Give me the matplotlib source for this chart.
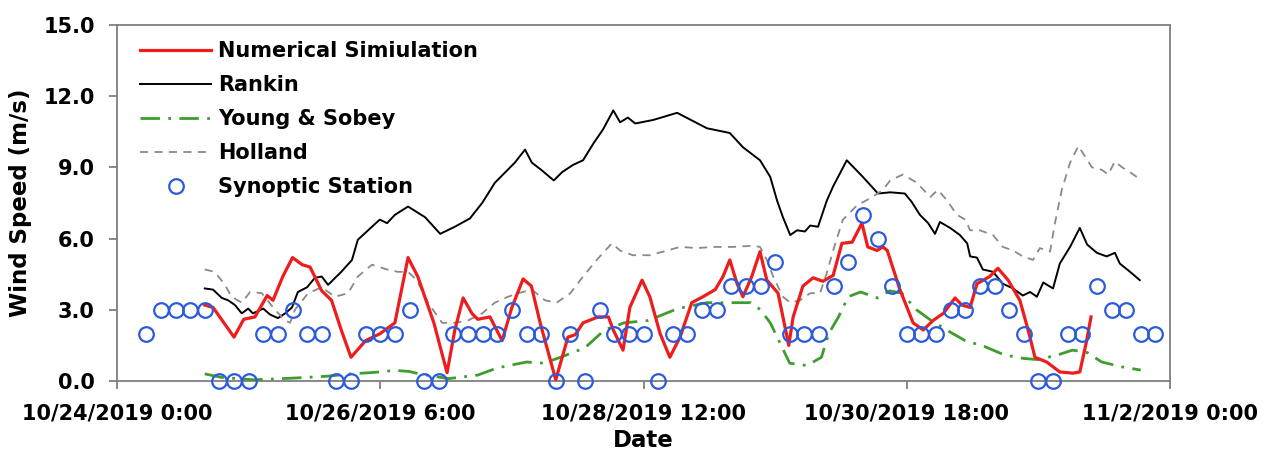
import matplotlib
matplotlib.use("Agg")
import matplotlib.pyplot as plt
import matplotlib.dates as mdates
from matplotlib.ticker import FuncFormatter, MultipleLocator
import pandas as pd

plt.rcParams['font.family'] = 'DejaVu Sans'
plt.rcParams['font.weight'] = 'bold'

start = pd.Timestamp("2019-10-24 00:00")
end = pd.Timestamp("2019-11-02 00:00")

# hours after 10/24/2019 0:00 and wind speed (m/s)
sim_hours = [18, 19.7, 24, 26, 28.3, 30.8, 32, 34, 36, 38, 39.6, 42, 44, 46, 48, 51, 54, 57,
             59.7, 61.7, 65, 67.7, 69.3, 71, 72.8, 74, 76.5, 79, 81, 83.3, 85, 86.8, 87.8, 90,
             92.5, 94, 95.6, 98.7, 100.8, 101.8, 103.8, 105.2, 107.7, 109.3, 111.4, 113.4,
             115.5, 117.9, 120.2, 122.7, 124.3, 125.7, 127.2, 128.4, 130.2, 131.9, 133.3,
             135.6, 136.6, 137.8, 138.7, 140.7, 142.8, 144.8, 146.9, 148.7, 150.8, 152.8, 154,
             155.9, 157.1, 158, 160.6, 163.3, 165.4, 167.4, 169.5, 171.9, 173.3, 175, 176.4,
             179, 180.7, 182.8, 185.2, 186.9, 188.3, 190.7, 192, 193.4, 196.1, 197.5, 198.8, 199.8]
sim_speed = [3.2, 3.1, 1.85, 2.6, 2.7, 3.6, 3.4, 4.4, 5.2, 4.9, 4.8, 3.8, 3.4, 2.15, 1.0, 1.7, 2.0, 2.45,
             5.2, 4.4, 2.45, 0.35, 2.15, 3.5, 2.85, 2.6, 2.7, 1.7, 3.1, 4.3, 4.0, 2.45, 1.7, 0.05,
             1.85, 1.95, 2.45, 2.7, 2.7, 2.15, 1.3, 3.1, 4.25, 3.55, 2.0, 1.0,
             1.85, 3.3, 3.55, 3.85, 4.4, 5.1, 4.1, 3.55, 4.4, 5.45, 4.25,
             3.7, 2.7, 1.5, 2.7, 4.0, 4.35, 4.2, 4.45, 5.8, 5.85, 6.65, 5.65,
             5.5, 5.65, 5.5, 3.85, 2.45, 2.15, 2.55, 2.85, 3.5, 3.2, 3.1, 4.1,
             4.4, 4.75, 4.25, 3.4, 2.15, 1.0, 0.8, 0.6, 0.38, 0.33, 0.38, 1.6, 2.7]

rankin_hours = [18, 19.7, 21.5, 22.8, 24.2, 25.6, 26.9, 27.9, 30, 31.4, 33, 34.5, 35.9, 37.1, 39,
                40.6, 42, 43.3, 46, 48.2, 49.4, 52.3, 53.9, 55.4, 57, 59.7, 63.2, 66.3, 69.3,
                72.4, 74.9, 77.5, 81.6, 83.7, 85.1, 87, 89.6, 91.3, 93.5, 95.6, 97.7, 99.7,
                101.8, 103.2, 104.8, 106.3, 110, 114.9, 121, 125.7, 128.4, 131.9, 134, 135.4,
                136.6, 138.1, 139.5, 141.1, 142.2, 143.8, 145.6, 146.9, 149.7, 153, 156.1,
                158.6, 161.6, 163, 164.7, 166.4, 167.8, 168.8, 170.9, 172.9, 174.4, 175, 176.4,
                177.6, 179.7, 181.7, 183.8, 185.8, 187.3, 188.7, 190, 190.8, 192, 193.4, 195.5,
                197.5, 199, 201, 203, 204.7, 205.7, 207.8, 209.8]
rankin_speed = [3.9, 3.85, 3.5, 3.4, 3.2, 2.85, 3.05, 2.85, 3.05, 2.8, 2.65, 2.85, 3.1, 3.75, 3.95,
                4.35, 4.4, 4.05, 4.6, 5.1, 5.95, 6.5, 6.8, 6.65, 7.0, 7.35, 6.9, 6.2, 6.5,
                6.85, 7.5, 8.35, 9.2, 9.75, 9.2, 8.9, 8.45, 8.8, 9.1, 9.3, 10.0, 10.6,
                11.4, 10.9, 11.1, 10.85, 11.0, 11.3, 10.65, 10.45, 9.85, 9.3, 8.6, 7.6,
                6.9, 6.15, 6.35, 6.3, 6.55, 6.5, 7.6, 8.2, 9.3, 8.6, 7.9,
                7.95, 7.9, 7.55, 7.0, 6.65, 6.2, 6.7, 6.45, 6.15, 5.8, 5.25, 5.2,
                4.7, 4.6, 4.1, 3.9, 3.6, 3.75, 3.55, 4.15, 4.05, 3.9, 4.95, 5.65,
                6.45, 5.75, 5.4, 5.25, 5.4, 4.95, 4.6, 4.25]

young_hours = [18, 21.5, 28, 36, 43, 48, 54, 57, 60, 62, 68, 74, 78, 84, 87.5, 91, 96, 100, 104,
               109, 115, 121, 125, 130, 132, 134, 136, 138, 141.5, 144.5, 146, 148, 150, 152.5,
               156, 158.5, 161, 164, 167, 171, 174, 178, 182, 186, 189, 193, 196, 199, 202, 206, 210]
young_speed = [0.3, 0.15, 0.05, 0.12, 0.2, 0.3, 0.38, 0.45, 0.4, 0.3, 0.1, 0.25, 0.55, 0.8, 0.75, 1.0, 1.4, 2.15, 2.45,
               2.55, 3.05, 3.3, 3.3, 3.3, 3.0, 2.45, 1.6, 0.75, 0.65, 1.0, 2.0, 2.7, 3.55, 3.75,
               3.5, 3.8, 3.7, 3.0, 2.55, 2.05, 1.7, 1.45, 1.1, 0.95, 0.9, 1.1, 1.3, 1.2, 0.8, 0.6, 0.46]

holland_hours = [18, 20, 22, 23.5, 25.6, 27.3, 29.7, 32.4, 34.5, 35.5, 36.5, 39.2, 42, 44.7, 47.4,
                 49.4, 52.3, 55.4, 57.6, 59.7, 61.5, 63.8, 66.7, 69.3, 72, 74.9, 77.5, 80.2, 82.3,
                 85.1, 87.8, 90.2, 93, 95.6, 98.4, 101.5, 103.2, 105.8, 109.3, 112, 115.5, 119,
                 122.3, 126.4, 130.5, 131.9, 133.3, 134.6, 136.6, 138.1, 140.1, 142.2, 144.2,
                 145.6, 146.9, 148.9, 151.8, 154.5, 157.1, 158.6, 161.2, 164.1, 166.8, 168.4,
                 170.3, 172.3, 174, 175, 177, 179.7, 181.7, 183.8, 185.8, 187.9, 189.3, 191.4,
                 192.4, 193.8, 195.5, 197.2, 198.6, 200, 202, 203.3, 204.7, 206.2, 207.8, 209.5]
holland_speed = [4.7, 4.6, 4.1, 3.55, 3.3, 3.75, 3.7, 3.0, 2.55, 2.45, 3.0, 3.7, 3.95, 3.55, 3.7,
                 4.4, 4.9, 4.7, 4.6, 4.6, 4.25, 3.3, 2.45, 2.45, 2.55, 2.85, 3.3, 3.55, 3.7,
                 3.85, 3.4, 3.3, 3.7, 4.4, 5.1, 5.8, 5.5, 5.3, 5.3, 5.45, 5.65, 5.6,
                 5.65, 5.65, 5.7, 5.65, 5.1, 4.4, 3.55, 3.3, 3.4, 3.7, 3.7,
                 4.55, 5.5, 6.8, 7.4, 7.7, 8.05, 8.45, 8.7, 8.35, 7.75, 8.05,
                 7.6, 7.0, 6.8, 6.35, 6.35, 6.15, 5.65, 5.5, 5.25, 5.1, 5.6, 5.45,
                 6.65, 8.05, 9.2, 9.9, 9.45, 9.0, 8.9, 8.7, 9.25, 9.0, 8.8, 8.55]

# 3-hourly station observations from 10/24 6:00
station_speed = [2, 3, 3, 3, 3, 0, 0, 0, 2, 2, 3, 2, 2, 0, 0, 2, 2, 2, 3, 0, 0, 2, 2, 2, 2, 3, 2, 2,
                 0, 2, 0, 3, 2, 2, 2, 0, 2, 2, 3, 3, 4, 4, 4, 5, 2, 2, 2, 4, 5, 7, 6, 4, 2, 2, 2,
                 3, 3, 4, 4, 3, 2, 0, 0, 2, 2, 4, 3, 3, 2, 2]


def to_time(hours):
    return start + pd.to_timedelta(hours, unit="h")


station_time = pd.date_range("2019-10-24 06:00", periods=len(station_speed), freq="3h")

fig = plt.figure(figsize=(12.68, 4.5), dpi=100)
ax = fig.add_axes([117 / 1268, 1 - 381 / 450, 1053 / 1268, 356 / 450])

ax.plot(to_time(sim_hours), sim_speed, color="#ee1c1c", lw=2.3, label="Numerical Simiulation", zorder=4)
ax.plot(to_time(rankin_hours), rankin_speed, color="black", lw=1.4, label="Rankin", zorder=3)
ax.plot(to_time(young_hours), young_speed, color="#3f9c2f", lw=2.0,
        linestyle=(0, (7, 3, 1, 3)), label="Young & Sobey", zorder=3)
ax.plot(to_time(holland_hours), holland_speed, color="#8a8a8a", lw=1.3,
        linestyle=(0, (4.5, 3.5)), label="Holland", zorder=3)
ax.plot(station_time, station_speed, linestyle="none", marker="o", ms=10.5,
        mfc="none", mec="#2a5bdc", mew=1.6, label="Synoptic Station", zorder=5, clip_on=False)

ax.set_xlim(start, end)
ax.set_ylim(0, 15)
ax.yaxis.set_major_locator(MultipleLocator(3))
ax.yaxis.set_major_formatter(FuncFormatter(lambda v, p: f"{v:.1f}"))
ax.set_xticks(pd.date_range(start, end, freq="54h"))


def date_label(v, pos):
    d = mdates.num2date(v)
    return f"{d.month}/{d.day}/{d.year} {d.hour}:{d.minute:02d}"


ax.xaxis.set_major_formatter(FuncFormatter(date_label))

for s in ax.spines.values():
    s.set_color("#7f7f7f")
    s.set_linewidth(1.3)
ax.tick_params(axis="both", direction="out", length=6, width=1.3, color="#7f7f7f",
               labelsize=15, pad=10)

ax.set_xlabel("Date", fontsize=16.5, fontweight="bold", labelpad=4)
ax.set_ylabel("Wind Speed (m/s)", fontsize=16.5, fontweight="bold", labelpad=8)

ax.legend(loc="upper left", bbox_to_anchor=(0.022, 0.954), frameon=False, fontsize=15,
          handlelength=3.4, handletextpad=0.35, labelspacing=0.67, borderaxespad=0, borderpad=0)

fig.savefig("out.png", dpi=100)
